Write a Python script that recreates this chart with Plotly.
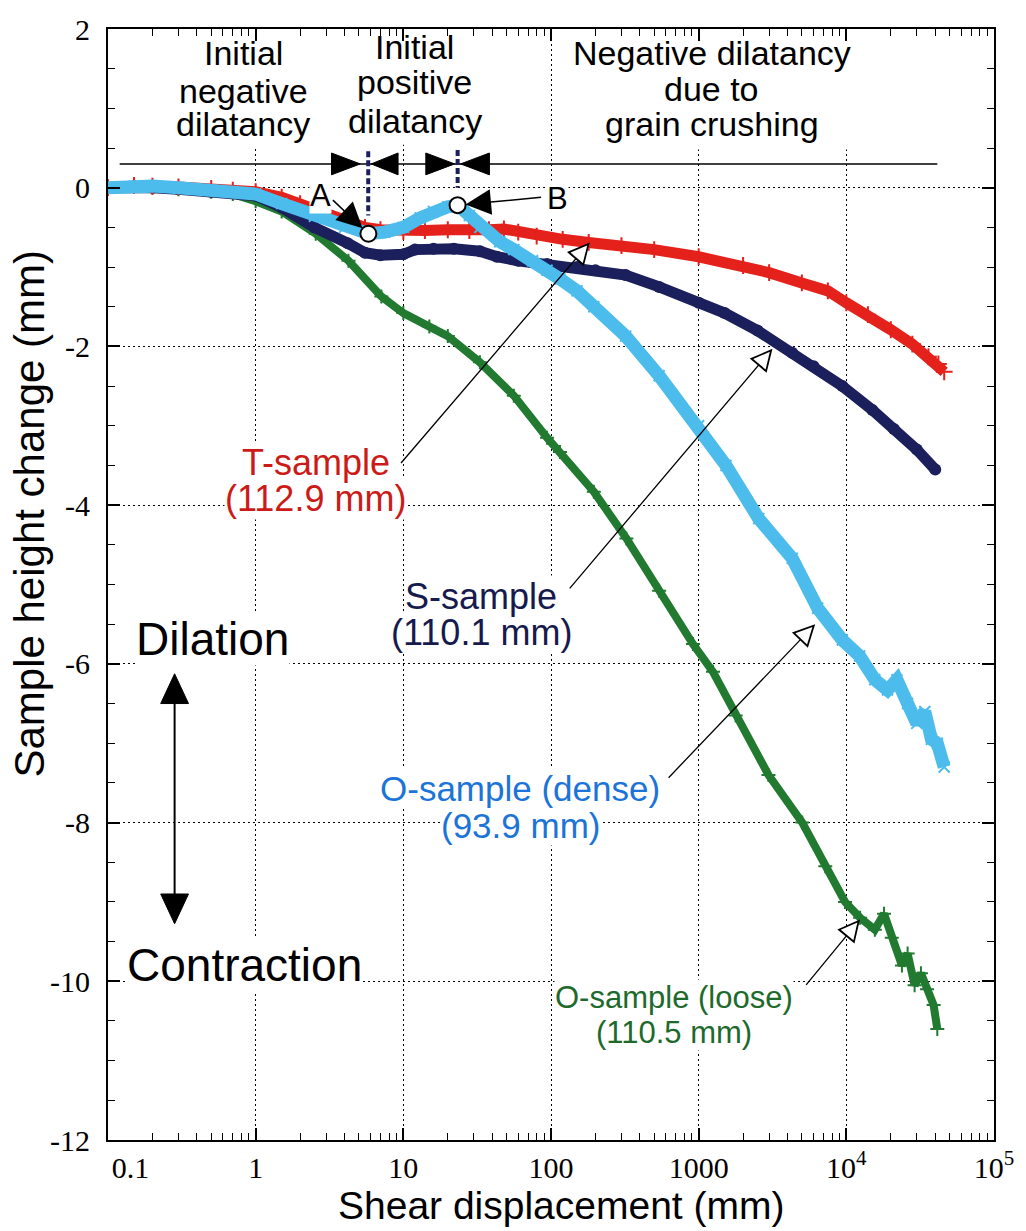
import math
import plotly.graph_objects as go

# ---------------- data ----------------
# T-sample (112.9 mm)
t_x = [0.1, 0.15, 0.2, 0.3, 0.5, 0.7, 1.0, 1.5, 2.0, 3.0, 4.2, 5.5, 7.0, 10, 14, 20, 28, 38, 48, 60,
       80, 120, 180, 300, 500, 1000, 2000, 3000, 5000, 7500, 10000, 14000, 20000, 28000, 36000, 42000, 46000]
t_y = [0.0, 0.03, 0.02, 0.01, -0.01, -0.03, -0.05, -0.12, -0.2, -0.32, -0.42, -0.5, -0.53, -0.55, -0.54, -0.53,
       -0.54, -0.53, -0.52, -0.56, -0.61, -0.65, -0.69, -0.73, -0.78, -0.87, -0.98, -1.07, -1.2, -1.3, -1.45,
       -1.6, -1.79, -1.97, -2.13, -2.22, -2.32]

# S-sample (110.1 mm)
s_x = [0.1, 0.15, 0.2, 0.3, 0.5, 0.7, 1.0, 1.5, 2.5, 4.2, 5.5, 7.0, 10, 12, 16, 22, 33, 43, 60, 94, 150,
       200, 320, 540, 1000, 1500, 2500, 4300, 6000, 9400, 15000, 21000, 30000, 40000]
s_y = [0.0, 0.02, 0.0, -0.02, -0.05, -0.06, -0.1, -0.25, -0.5, -0.7, -0.82, -0.85, -0.84, -0.78, -0.77, -0.77,
       -0.8, -0.87, -0.92, -0.96, -1.0, -1.04, -1.1, -1.25, -1.45, -1.58, -1.8, -2.08, -2.25, -2.5, -2.8,
       -3.04, -3.3, -3.55]

# O-sample (dense) (93.9 mm)
od_x = [0.1, 0.15, 0.2, 0.3, 0.5, 0.7, 1.0, 1.5, 2.5, 4.0, 5.8, 7.5, 10, 13, 16, 20, 23.3, 28, 33, 45, 56,
        75, 94, 115, 150, 195, 320, 540, 1000, 1530, 2550, 4300, 6400, 9400, 12300, 15600, 19000, 22000,
        26000, 30000, 34000, 37700, 41300, 46000]
od_y = [0.0, 0.02, 0.02, 0.0, -0.03, -0.05, -0.08, -0.2, -0.36, -0.5, -0.58, -0.56, -0.5, -0.38, -0.3, -0.24,
        -0.22, -0.35, -0.5, -0.68, -0.78, -0.92, -1.04, -1.15, -1.3, -1.5, -1.87, -2.37, -3.0, -3.5, -4.17,
        -4.67, -5.3, -5.7, -5.9, -6.2, -6.33, -6.2, -6.5, -6.75, -6.6, -6.95, -7.0, -7.3]

# O-sample (loose) (110.5 mm)
ol_x = [0.1, 0.15, 0.2, 0.3, 0.5, 0.7, 1.0, 1.5, 2.55, 4.25, 7.1, 10, 15, 20, 33, 56, 94, 115, 195, 324,
        540, 915, 1250, 1780, 2970, 5030, 7200, 9800, 12400, 15600, 18000, 20300, 23800, 26000, 29000,
        32000, 35200, 39000, 41300]
ol_y = [0.0, 0.02, 0.0, -0.02, -0.05, -0.08, -0.17, -0.3, -0.58, -0.92, -1.37, -1.58, -1.75, -1.87, -2.2,
        -2.62, -3.15, -3.33, -3.83, -4.42, -5.08, -5.75, -6.1, -6.65, -7.4, -8.0, -8.55, -9.0, -9.2, -9.35,
        -9.15, -9.45, -9.8, -9.65, -10.05, -9.9, -10.1, -10.3, -10.6]

# points A and B
pt_labels = ["A", "B"]
pt_x = [5.8, 23.3]
pt_y = [-0.58, -0.22]

# axis ticks
xtick_vals = [0.1, 1, 10, 100, 1000, 1e4, 1e5]
xtick_text = ["\u00a0" * 6 + "0.1", "1", "10", "100", "1000", "10<sup>4</sup>", "10<sup>5</sup>"]
ytick_vals = [2, 0, -2, -4, -6, -8, -10, -12]
ytick_text = ["2", "0", "-2", "-4", "-6", "-8", "-10", "-12"]
xminor_vals = [k * 10.0 ** d for d in range(-1, 5) for k in range(2, 10)]

# ---------------- styles ----------------
RED = "#e4211b"
NAVY = "#1b1f5c"
LBLUE = "#4cbcec"
GREEN = "#217a30"
SANS = "Liberation Sans"
SERIF = "Liberation Serif"

fig = go.Figure()

fig.add_trace(go.Scatter(x=ol_x, y=ol_y, mode="lines+markers", name="O-sample (loose)",
                         line=dict(color=GREEN, width=8),
                         marker=dict(symbol="cross-thin", size=10, color=GREEN, line=dict(color=GREEN, width=2))))
fig.add_trace(go.Scatter(x=s_x, y=s_y, mode="lines+markers", name="S-sample",
                         line=dict(color=NAVY, width=11),
                         marker=dict(symbol="circle", size=12, color=NAVY)))
fig.add_trace(go.Scatter(x=t_x, y=t_y, mode="lines+markers", name="T-sample",
                         line=dict(color=RED, width=11),
                         marker=dict(symbol="cross-thin", size=12, color=RED, line=dict(color=RED, width=2))))
fig.add_trace(go.Scatter(x=od_x, y=od_y, mode="lines+markers", name="O-sample (dense)",
                         line=dict(color=LBLUE, width=13),
                         marker=dict(symbol="x-thin", size=11, color=LBLUE, line=dict(color=LBLUE, width=2))))
fig.add_trace(go.Scatter(x=pt_x, y=pt_y, mode="markers", name="points",
                         marker=dict(size=16, color="white", line=dict(color="black", width=2)),
                         cliponaxis=False))

# ---------------- shapes ----------------
shapes = []
# white boxes hiding the grid behind the header texts
for x0, x1, y0, y1 in [(0.261, 2.67, 0.5, 2), (3.64, 40.1, 0.54, 2), (109.6, 13340, 0.48, 2)]:
    shapes.append(dict(type="rect", xref="x", yref="y", x0=x0, x1=x1, y0=y0, y1=y1,
                       fillcolor="white", line=dict(width=0), layer="between"))
# horizontal phase line
shapes.append(dict(type="line", xref="x", yref="y", x0=0.12, x1=41300, y0=0.3, y1=0.3,
                   line=dict(color="black", width=1.5)))
# arrow triangles on the phase line
for xb, xt in [(3.262, 5.111), (9.21, 6.06), (14.2, 22.26), (38.28, 24.42)]:
    shapes.append(dict(type="path", xref="x", yref="y",
                       path=f"M{xb},{0.3 + 0.1375} L{xt},0.3 L{xb},{0.3 - 0.1375} Z",
                       fillcolor="black", line=dict(color="black", width=1)))
# dashed phase boundaries
shapes.append(dict(type="line", xref="x", yref="y", x0=5.785, x1=5.785, y0=0.46, y1=-0.35,
                   line=dict(color=NAVY, width=4, dash="6px,3px")))
shapes.append(dict(type="line", xref="x", yref="y", x0=23.32, x1=23.32, y0=0.475, y1=0.0,
                   line=dict(color=NAVY, width=4, dash="6px,3px")))
# Dilation / Contraction double arrow
shapes.append(dict(type="line", xref="x", yref="y", x0=0.2825, x1=0.2825, y0=-6.45, y1=-8.95,
                   line=dict(color="black", width=2)))
shapes.append(dict(type="path", xref="x", yref="y", path="M0.2275,-6.5 L0.2825,-6.125 L0.3508,-6.5 Z",
                   fillcolor="black", line=dict(color="black", width=1)))
shapes.append(dict(type="path", xref="x", yref="y", path="M0.2275,-8.9 L0.2825,-9.275 L0.3508,-8.9 Z",
                   fillcolor="black", line=dict(color="black", width=1)))

# ---------------- annotations ----------------
ann = []


def txt(t, lx, y, size, color="black", family=SANS, bg="white"):
    d = dict(x=lx, y=y, xref="x", yref="y", text=t, showarrow=False, xanchor="center", yanchor="middle",
             font=dict(family=family, size=size, color=color))
    if bg:
        d.update(bgcolor=bg, borderpad=0)
    return d


# headers
for t, y in [("Initial", 1.70), ("negative", 1.219), ("dilatancy", 0.806)]:
    ann.append(txt(t, -0.085, y, 34, bg=None))
for t, y in [("Initial", 1.77), ("positive", 1.33), ("dilatancy", 0.844)]:
    ann.append(txt(t, 1.078, y, 34, bg=None))
for t, y in [("Negative dilatancy", 1.70), ("due to", 1.244), ("grain crushing", 0.806)]:
    ann.append(txt(t, 3.090, y, 34, bg=None))

# sample labels (second line first, so the first line's descenders stay on top)
ann.append(txt("(112.9 mm)", 0.406, -3.92, 36, "#cc1b17"))
ann.append(txt("T-sample", 0.406, -3.46, 36, "#cc1b17"))
ann.append(txt("(110.1 mm)", 1.529, -5.61, 36, "#161a4c"))
ann.append(txt("S-sample", 1.529, -5.15, 36, "#161a4c"))
ann.append(txt("(93.9 mm)", 1.791, -8.04, 35, "#1c74d8"))
ann.append(txt("O-sample (dense)", 1.791, -7.57, 35, "#1c74d8"))
ann.append(txt("(110.5 mm)", 2.834, -10.64, 31, "#1d6a2b"))
ann.append(txt("O-sample (loose)", 2.834, -10.21, 31, "#1d6a2b"))
ann.append(txt("Dilation", -0.294, -5.69, 46))
ann.append(txt("Contraction", -0.0785, -9.79, 46))

# A and B labels and their arrows
ann.append(txt(pt_labels[0], 0.4394, -0.1, 31))
ann.append(txt(pt_labels[1], 2.047, -0.1375, 31))
ann.append(dict(x=math.log10(pt_x[0]), y=pt_y[0], xref="x", yref="y", text="", showarrow=True,
                ax=-37, ay=-35, arrowhead=2, arrowwidth=1.5, arrowsize=3.4, arrowcolor="black", standoff=8))
ann.append(dict(x=math.log10(pt_x[1]), y=pt_y[1], xref="x", yref="y", text="", showarrow=True,
                ax=85, ay=-8, arrowhead=2, arrowwidth=1.5, arrowsize=3.4, arrowcolor="black", standoff=8))


# open-headed leader arrows
def open_arrow(x, y, ax, ay):
    L = math.hypot(ax, ay)
    outer = dict(x=math.log10(x), y=y, xref="x", yref="y", text="", showarrow=True, ax=ax, ay=ay,
                 arrowhead=2, arrowwidth=1.3, arrowsize=3.4, arrowcolor="black", standoff=0)
    inner = dict(x=math.log10(x), y=y, xref="x", yref="y", text="", showarrow=True,
                 ax=ax / L * 20, ay=ay / L * 20,
                 arrowhead=2, arrowwidth=0.6, arrowsize=5.4, arrowcolor="white", standoff=4)
    return [outer, inner]


ann += open_arrow(183, -0.69, -190, 222)
ann += open_arrow(3160, -2.03, -204, 241)
ann += open_arrow(6150, -5.5, -148, 155)
ann += open_arrow(12360, -9.22, -55, 67)

# axis titles
ann.append(dict(x=0.511, y=-0.059, xref="paper", yref="paper", text="Shear displacement (mm)",
                showarrow=False, xanchor="center", yanchor="middle",
                font=dict(family=SANS, size=39, color="black")))
ann.append(dict(x=-0.0886, y=0.5634, xref="paper", yref="paper", text="Sample height change (mm)",
                showarrow=False, xanchor="center", yanchor="middle", textangle=-90,
                font=dict(family=SANS, size=42, color="black")))

axis_common = dict(ticks="inside", ticklen=12, tickwidth=1.5, tickcolor="black",
                   showline=True, linewidth=2, linecolor="black", mirror="allticks",
                   showgrid=True, gridcolor="black", gridwidth=1, griddash="2px,3px",
                   zeroline=False, tickfont=dict(family=SERIF, size=30, color="black"))

fig.update_layout(
    width=1026, height=1231,
    margin=dict(l=108, r=26, t=20, b=91),
    paper_bgcolor="white", plot_bgcolor="white",
    showlegend=False,
    font=dict(family=SANS, color="black"),
    xaxis=dict(type="log", range=[-1, 5], tickmode="array", tickvals=xtick_vals, ticktext=xtick_text,
               minor=dict(tickmode="array", tickvals=xminor_vals, ticks="inside", ticklen=7, tickwidth=1.2,
                          tickcolor="black", showgrid=False),
               ticklabelstandoff=0, **axis_common),
    yaxis=dict(range=[-12, 2], tickmode="array", tickvals=ytick_vals, ticktext=ytick_text,
               minor=dict(dtick=0.5, tick0=0, ticks="inside", ticklen=7, tickwidth=1.2,
                          tickcolor="black", showgrid=False),
               ticklabelstandoff=10, **axis_common),
    shapes=shapes,
    annotations=ann,
)

fig.write_html("out.html")
